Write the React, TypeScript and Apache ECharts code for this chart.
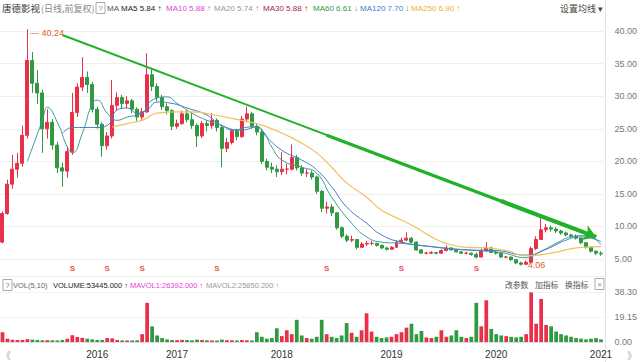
import React, { useEffect, useRef } from "react";
import * as echarts from "echarts";

// ---------- data ----------
const yearSegments: [string, number][] = [
  ["2015", 19], ["2016", 16], ["2017", 21], ["2018", 22], ["2019", 21], ["2020", 21], ["2021", 1],
];

const opens = [
  7.6, 12.0, 16.5, 18.8, 19.7, 24.0, 35.5, 32.0, 30.5, 25.0,
  26.0, 22.5, 19.0, 18.5, 21.5, 27.5, 31.4, 32.9, 31.8, 28.0,
  25.7, 22.4, 23.9, 28.6, 29.8, 28.9, 29.3, 28.0, 26.8, 27.6,
  33.3, 31.5, 29.8, 28.4, 27.8, 25.4, 25.8, 27.3, 26.4, 25.5,
  23.9, 25.8, 25.5, 26.3, 25.2, 22.0, 22.9, 24.7, 23.8, 26.5,
  27.3, 25.4, 24.5, 20.0, 19.1, 18.8, 18.4, 18.8, 18.8, 20.6,
  19.0, 18.2, 18.2, 17.6, 15.4, 12.8, 13.0, 12.1, 9.8, 8.5,
  7.9, 8.0, 6.8, 7.3, 7.4, 7.4, 7.1, 6.7, 6.5, 6.8,
  7.6, 7.9, 8.2, 7.6, 6.4, 5.9, 5.9, 6.0, 5.9, 6.3,
  6.7, 6.4, 6.1, 5.9, 5.9, 5.7, 5.3, 6.3, 6.7, 6.0,
  5.9, 5.3, 5.3, 4.9, 4.4, 4.2, 4.5, 6.6, 8.0, 9.5,
  9.8, 9.6, 9.3, 9.0, 8.7, 8.5, 8.2, 7.5, 6.8, 6.2,
  5.9,
];
const closes = [
  12.0, 16.5, 18.8, 19.7, 24.0, 35.5, 32.0, 30.5, 25.0, 26.0,
  22.5, 19.0, 18.5, 21.5, 27.5, 31.4, 32.9, 31.8, 28.0, 25.7,
  22.4, 23.9, 28.6, 29.8, 28.9, 29.3, 28.0, 26.8, 27.6, 33.3,
  31.5, 29.8, 28.4, 27.8, 25.4, 25.8, 27.3, 26.4, 25.5, 23.9,
  25.8, 25.5, 26.3, 25.2, 22.0, 22.9, 24.7, 23.8, 26.5, 27.3,
  25.4, 24.5, 20.0, 19.1, 18.8, 18.4, 18.8, 18.8, 20.6, 19.0,
  18.2, 18.2, 17.6, 15.4, 12.8, 13.0, 12.1, 9.8, 8.5, 7.9,
  8.0, 6.8, 7.3, 7.4, 7.4, 7.1, 6.7, 6.5, 6.8, 7.6,
  7.9, 8.2, 7.6, 6.4, 5.9, 5.9, 6.0, 5.9, 6.3, 6.7,
  6.4, 6.1, 5.9, 5.9, 5.7, 5.3, 6.3, 6.7, 6.0, 5.9,
  5.3, 5.3, 4.9, 4.4, 4.2, 4.5, 6.6, 8.0, 9.5, 9.8,
  9.6, 9.3, 9.0, 8.7, 8.5, 8.2, 7.5, 6.8, 6.2, 5.9,
  5.8,
];
const lows = [
  7.4, 11.8, 15.8, 17.5, 19.2, 23.5, 30.5, 28.8, 21.3, 23.5,
  21.8, 18.2, 16.1, 17.5, 21.0, 26.8, 30.8, 30.5, 27.5, 25.0,
  20.7, 21.8, 23.5, 27.8, 28.0, 28.2, 27.4, 26.2, 26.4, 27.4,
  30.8, 29.2, 27.9, 27.2, 24.8, 25.0, 25.6, 26.0, 25.0, 22.2,
  23.6, 24.6, 25.0, 24.6, 19.1, 21.4, 22.6, 23.2, 23.6, 26.0,
  25.0, 24.0, 19.6, 18.6, 18.2, 17.6, 17.9, 18.0, 18.6, 18.6,
  17.8, 17.6, 17.2, 15.0, 12.2, 12.0, 11.6, 9.5, 8.2, 7.6,
  7.6, 6.5, 6.7, 7.0, 7.1, 6.9, 6.5, 6.3, 6.4, 6.7,
  7.4, 7.8, 7.4, 6.3, 5.8, 5.7, 5.8, 5.7, 5.8, 6.2,
  6.3, 6.0, 5.8, 5.7, 5.5, 5.1, 5.3, 6.1, 5.9, 5.7,
  5.2, 5.1, 4.7, 4.2, 4.06, 4.1, 4.5, 6.4, 7.9, 9.1,
  9.2, 9.0, 8.7, 8.5, 8.3, 8.0, 7.3, 6.6, 6.0, 5.6,
  5.5,
];
const highs = [
  12.3, 17.2, 21.0, 21.3, 25.5, 40.24, 36.8, 34.0, 31.0, 28.0,
  26.5, 23.0, 19.8, 22.3, 30.5, 32.0, 36.0, 33.8, 32.2, 28.4,
  26.0, 24.5, 32.5, 30.6, 30.2, 30.0, 29.6, 28.3, 28.2, 36.6,
  34.2, 32.0, 30.2, 28.9, 28.0, 26.4, 27.8, 27.9, 27.5, 25.8,
  26.2, 26.3, 27.4, 26.6, 25.4, 23.6, 25.0, 25.0, 27.0, 28.4,
  27.6, 25.8, 24.8, 20.4, 19.8, 19.4, 21.4, 19.6, 22.6, 21.0,
  19.4, 18.8, 18.6, 17.8, 15.6, 13.8, 13.4, 12.2, 10.0, 8.8,
  8.6, 8.1, 7.6, 7.8, 7.8, 7.5, 7.2, 6.9, 7.0, 7.9,
  8.3, 9.1, 8.4, 7.7, 6.5, 6.1, 6.2, 6.1, 6.5, 7.1,
  6.8, 6.5, 6.2, 6.1, 6.0, 6.0, 6.6, 7.6, 6.9, 6.2,
  6.0, 5.5, 5.4, 5.0, 4.6, 4.8, 6.9, 8.5, 11.8, 10.4,
  10.1, 9.9, 9.5, 9.2, 8.9, 8.8, 8.3, 7.6, 6.9, 6.3,
  6.2,
];
const volumes = [
  7.5, 2.5, 1.8, 1.5, 1.6, 2.2, 1.8, 1.5, 1.3, 1.4,
  1.3, 1.2, 1.5, 2.5, 5.2, 3.8, 3.2, 2.5, 2.0, 1.5,
  1.6, 3.0, 2.8, 1.5, 1.2, 1.1, 1.2, 1.3, 6.0, 30.0,
  12.0, 5.0, 3.0, 2.0, 1.5, 1.4, 1.6, 1.5, 1.3, 1.8,
  1.5, 1.3, 1.2, 1.1, 1.8, 1.4, 1.3, 1.2, 1.5, 1.3,
  1.2, 7.5, 4.0, 2.5, 3.0, 10.5, 4.5, 9.0, 6.0, 17.0,
  5.0, 3.0, 2.5, 4.0, 17.0, 6.0, 4.0, 3.0, 5.0, 14.5,
  7.0, 4.0, 9.0, 22.0, 8.0, 4.0, 3.0, 3.5, 4.0, 6.0,
  7.5, 11.0, 14.0, 6.0, 8.5, 3.5, 3.0, 4.0, 9.0, 4.0,
  5.0, 9.0, 4.0, 3.0, 4.0, 30.0, 12.0, 32.0, 10.0, 6.0,
  5.0, 4.5, 4.0, 3.5, 4.0, 6.0, 38.0, 14.0, 33.0, 13.0,
  12.0, 8.0, 6.0, 5.0, 4.0, 3.0, 2.5, 2.0, 2.5, 3.0,
  2.0,
];

const ma60: [number, number][] = [
  [5, 20], [8, 26.3], [9, 28.3], [11, 26], [13, 22.2], [14, 21.3], [16, 24.3], [18, 28.9],
  [19, 29.4], [21, 27.4], [23, 26.3], [25, 26.8], [28, 27.4], [30, 29.4], [33, 29.9],
  [35, 28.9], [38, 27.4], [41, 26.3], [44, 25.5], [46, 24.8], [50, 25.3], [52, 24.8],
  [54, 22.2], [56, 20.2], [60, 19.1], [63, 18.2], [66, 14.5], [70, 10.5], [73, 8.4],
  [76, 7.6], [80, 7.4], [85, 7.0], [90, 6.6], [95, 6.3], [100, 6.0], [105, 5.2],
  [108, 6.2], [111, 7.4], [114, 8.4], [117, 8.6], [120, 7.2],
];
const ma120: [number, number][] = [
  [12, 24.3], [14, 25.2], [19, 25.2], [21, 25.5], [23, 27.9], [25, 28.2], [27, 27.4],
  [29, 27.9], [31, 29.1], [34, 28.9], [37, 28.2], [41, 27.1], [44, 25.5], [48, 24.8],
  [51, 25.3], [53, 23.7], [56, 21.7], [60, 20.2], [63, 18.7], [66, 16.1], [69, 13],
  [73, 10.5], [76, 8.7], [80, 7.6], [87, 6.8], [93, 6.4], [99, 6.3], [105, 5.6],
  [109, 6.5], [113, 7.9], [116, 8.4], [120, 7.7],
];
const ma250: [number, number][] = [
  [22, 25.3], [25, 25.8], [28, 26.3], [31, 27.4], [35, 27.6], [38, 27.6], [42, 27.2],
  [46, 26.6], [53, 25.3], [60, 22.8], [63, 21.3], [66, 19.1], [69, 16.7], [73, 14.5],
  [76, 12.5], [80, 11], [83, 9.8], [86, 8.4], [89, 7.4], [93, 6.8], [97, 6.7],
  [101, 6.3], [105, 5.5], [110, 5.9], [116, 6.8], [120, 6.9],
];

const priceTicks = [5, 10, 15, 20, 25, 30, 35, 40];
const VOL_MAX = 38.3;
const VOL_STEP = 19.15;
const peakPoint: [number, number] = [5, 40.24];
const troughPoint: [number, number] = [104, 4.06];
const signalIndices = [14, 21, 28, 43, 65, 80, 95];
// hand-drawn trend line: start, two points read along it, arrow tip
const trendStart: [number, number] = [12, 39.4];
const trendMid: [number, number] = [65, 24.0];
const trendLate: [number, number] = [100, 13.9];
const trendEnd: [number, number] = [119, 8.4];

const PRICE_MIN = 3.5;
const PRICE_MAX = 41.4;

const maLegend: [string, string, number][] = [
  ["MA5 5.84 ↑", "#222222", 121],
  ["MA10 5.88 ↑", "#e33fd8", 166],
  ["MA20 5.74 ↑", "#999999", 214],
  ["MA30 5.88 ↑", "#a3283c", 263],
  ["MA60 6.61 ↓", "#2e9a3c", 313],
  ["MA120 7.70 ↓", "#3a7bd5", 360],
  ["MA250 6.90 ↑", "#f0b12a", 411],
];
const volLegend: [string, string, number][] = [
  ["VOL(5,10)", "#666666", 13],
  ["VOLUME:53445.000 ↑", "#222222", 53],
  ["MAVOL1:26392.000 ↑", "#e33fd8", 130],
  ["MAVOL2:25850.200 ↑", "#999999", 206],
];
const toolLabels: [string, number][] = [["改参数", 505], ["加指标", 535], ["换指标", 565]];

// ---------- build ----------
const categories: string[] = [];
yearSegments.forEach(([y, n]) => {
  for (let k = 1; k <= n; k++) categories.push(`${y}-${k}`);
});

const UP = "#e8304a";
const DOWN = "#2f9a40";
const TREND = "#22b22a";
const FONT = "'Noto Sans CJK SC', 'Liberation Sans', sans-serif";
const LATIN = "'Liberation Sans', 'DejaVu Sans', 'Noto Sans CJK SC', sans-serif";

export default function App() {
  const ref = useRef<HTMLDivElement>(null);
  useEffect(() => {
    document.body.style.margin = "0";
    if (!ref.current) return;
    const chart = echarts.init(ref.current, null, { renderer: "svg" });

    const candleData = opens.map((o, i) => [o, closes[i], lows[i], highs[i]]);
    const volData = volumes.map((v, i) => ({
      value: v,
      itemStyle: { color: closes[i] >= opens[i] ? UP : DOWN },
    }));

    const textEl = (text: string, x: number, y: number, color: string, size = 8, family = LATIN) => ({
      type: "text",
      x,
      y,
      silent: true,
      style: { text, fill: color, font: `${size}px ${family}`, verticalAlign: "middle" },
    });
    const boxEl = (x: number, y: number, ch: string) => ({
      type: "group",
      children: [
        { type: "rect", shape: { x, y: y - 5.5, width: 9, height: 11 }, style: { fill: "#fff", stroke: "#aaa", lineWidth: 1 } },
        { type: "text", x: x + 4.5, y, style: { text: ch, fill: "#888", font: `8px ${LATIN}`, align: "center", verticalAlign: "middle" } },
      ],
    });

    const graphics: any[] = [
      { type: "line", shape: { x1: 605.5, y1: 0, x2: 605.5, y2: 362 }, style: { stroke: "#e3e3e3", lineWidth: 1 }, silent: true },
      { type: "line", shape: { x1: 0, y1: 276.5, x2: 605, y2: 276.5 }, style: { stroke: "#eeeeee", lineWidth: 1 }, silent: true },
      textEl("唐德影视", 2, 8, "#333", 9.5, FONT),
      textEl("(日线,前复权)", 41, 8, "#888", 9, FONT),
      boxEl(96, 8, "?"),
      textEl("MA", 107, 8, "#555"),
      ...maLegend.map(([t, c, x]) => textEl(t, x, 8, c)),
      textEl("设置均线 ▾", 560, 8, "#444", 9, FONT),
      boxEl(3, 285, "?"),
      ...volLegend.map(([t, c, x]) => textEl(t, x, 285, c, 7.5)),
      ...toolLabels.map(([t, x]) => textEl(t, x, 284, "#555", 7.8, FONT)),
      boxEl(595, 284, "×"),
      textEl("《", 1, 355, "#aaa", 10, FONT),
      textEl("》", 627, 355, "#aaa", 10, FONT),
    ];

    chart.setOption({
      animation: false,
      backgroundColor: "#ffffff",
      textStyle: { fontFamily: LATIN },
      grid: [
        { left: 0, right: 35, top: 22, bottom: 93.2 },
        { left: 0, right: 35, top: 292, bottom: 20 },
      ],
      xAxis: [
        {
          type: "category", gridIndex: 0, data: categories, boundaryGap: true,
          axisLine: { show: false }, axisTick: { show: false }, axisLabel: { show: false }, splitLine: { show: false },
        },
        {
          type: "category", gridIndex: 1, data: categories, boundaryGap: true,
          axisLine: { show: true, lineStyle: { color: "#dddddd" } },
          axisTick: { show: false },
          splitLine: { show: false },
          axisLabel: {
            color: "#333", fontSize: 10, margin: 7,
            interval: (_i: number, v: string) => v.endsWith("-1") && !v.startsWith("2015"),
            formatter: (v: string) => v.split("-")[0],
          },
        },
      ],
      yAxis: [
        {
          type: "value", gridIndex: 0, position: "right", min: PRICE_MIN, max: PRICE_MAX, splitNumber: 8,
          axisLine: { show: false }, axisTick: { show: false, customValues: priceTicks },
          splitLine: { show: true, lineStyle: { color: "#f0f0f0" } },
          axisLabel: {
            customValues: priceTicks,
            color: "#777", fontSize: 9, margin: 11,
            formatter: (v: number) => v.toFixed(2),
          },
        },
        {
          type: "value", gridIndex: 1, position: "right", min: 0, max: VOL_MAX, interval: VOL_STEP,
          axisLine: { show: false }, axisTick: { show: false },
          splitLine: { show: true, lineStyle: { color: "#f3f3f3" } },
          axisLabel: {
            color: "#777", fontSize: 9, margin: 11,
            formatter: (v: number) => v.toFixed(2),
          },
        },
      ],
      series: [
        {
          type: "candlestick", name: "K", xAxisIndex: 0, yAxisIndex: 0, data: candleData, barWidth: "70%",
          itemStyle: { color: UP, color0: DOWN, borderColor: UP, borderColor0: DOWN, borderWidth: 1 },
          markPoint: {
            symbol: "circle", symbolSize: 1, silent: true,
            itemStyle: { color: "#e0622a" },
            data: [
              { coord: peakPoint, label: { show: true, position: "right", distance: 2, offset: [0, 3], formatter: "— 40.24", color: "#e0622a", fontSize: 9 } },
              { coord: troughPoint, label: { show: true, position: "right", distance: 6, formatter: "4.06", color: "#e0622a", fontSize: 9 } },
            ],
          },
          markLine: {
            silent: true, symbol: ["none", "none"],
            label: { show: false },
            data: [
              [{ coord: trendStart, lineStyle: { color: TREND, width: 2, type: "solid" } }, { coord: trendEnd }],
              [{ coord: trendMid, lineStyle: { color: TREND, width: 3.2, type: "solid" } }, { coord: trendEnd }],
              [
                { coord: trendLate, lineStyle: { color: TREND, width: 4.2, type: "solid" } },
                { coord: trendEnd, symbol: "arrow", symbolSize: 12, itemStyle: { color: TREND } },
              ],
            ],
          },
          z: 3,
        },
        {
          type: "line", name: "MA60", xAxisIndex: 0, yAxisIndex: 0, data: ma60, smooth: true, symbol: "none",
          lineStyle: { color: "#3a9c9c", width: 1 }, z: 4,
        },
        {
          type: "line", name: "MA120", xAxisIndex: 0, yAxisIndex: 0, data: ma120, smooth: true, symbol: "none",
          lineStyle: { color: "#4a7cc4", width: 1 }, z: 4,
        },
        {
          type: "line", name: "MA250", xAxisIndex: 0, yAxisIndex: 0, data: ma250, smooth: true, symbol: "none",
          lineStyle: { color: "#f2c05e", width: 1.2 }, z: 4,
        },
        {
          type: "scatter", name: "S", xAxisIndex: 0, yAxisIndex: 0, clip: false, symbolSize: 0,
          data: signalIndices.map((i) => [i, PRICE_MIN]),
          label: { show: true, position: "inside", formatter: "S", color: "#e02020", fontSize: 8, fontWeight: "bold" },
          silent: true, z: 5,
        },
        {
          type: "bar", name: "VOL", xAxisIndex: 1, yAxisIndex: 1, data: volData, barWidth: "75%",
        },
      ],
      graphic: graphics,
    });
    return () => chart.dispose();
  }, []);
  return <div ref={ref} style={{ width: 640, height: 362 }} />;
}
